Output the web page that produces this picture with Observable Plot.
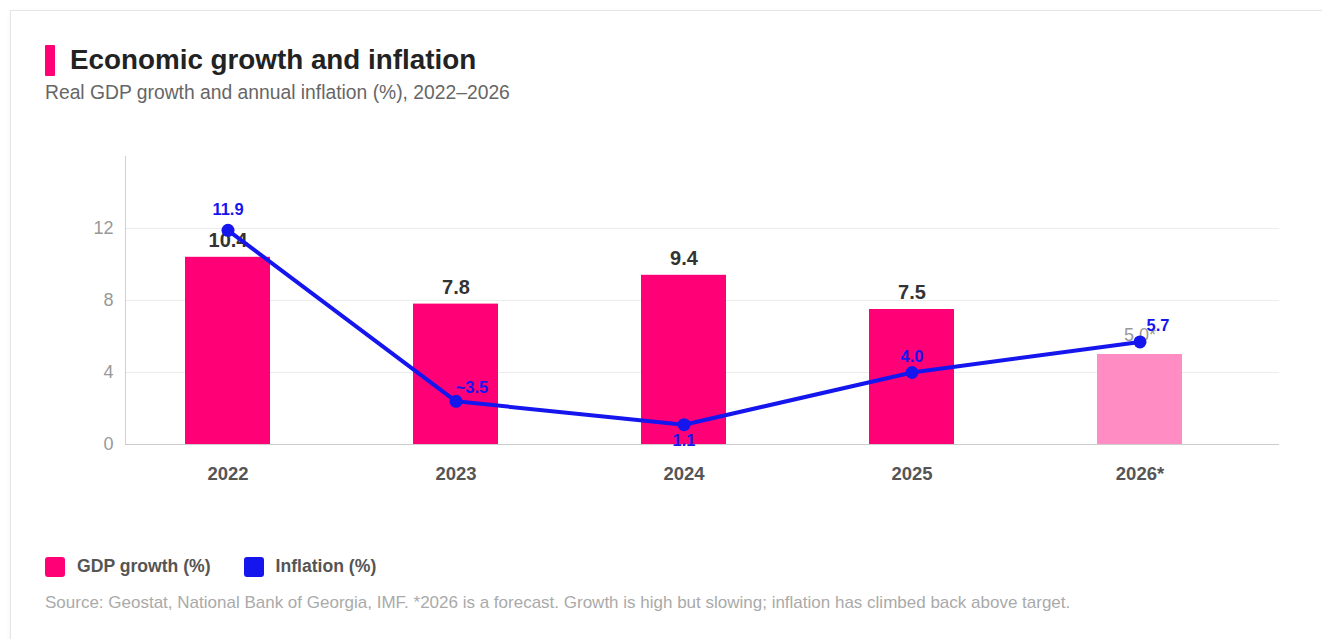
<!DOCTYPE html>
<html>
<head>
<meta charset="utf-8">
<script src="https://cdn.jsdelivr.net/npm/d3@7"></script>
<script src="https://cdn.jsdelivr.net/npm/@observablehq/plot@0.6"></script>
<style>
  html, body { margin: 0; padding: 0; background: #fff; width: 1322px; height: 639px; overflow: hidden; font-family: "Liberation Sans", Arial, sans-serif; }
  .card { position: absolute; left: 10px; top: 10px; width: 1400px; height: 700px; border: 1px solid #e4e4e4; box-shadow: 0 2px 6px rgba(0,0,0,0.04); background: #fff; }
  .mark { position: absolute; left: 45px; top: 45px; width: 10px; height: 31px; background: #ff0077; border-radius: 1px; }
  .title { position: absolute; left: 70px; top: 43px; font-size: 27.8px; font-weight: bold; color: #222; line-height: 34px; white-space: nowrap; }
  .subtitle { position: absolute; left: 45px; top: 82px; font-size: 19.3px; color: #666; line-height: 22px; white-space: nowrap; }
  #chart { position: absolute; left: 0; top: 140px; }
  .legend { position: absolute; left: 45px; top: 556px; display: flex; align-items: center; font-size: 17.6px; color: #555; font-weight: bold; white-space: nowrap; }
  .legend .sw { width: 20px; height: 20px; border-radius: 3px; margin-right: 12px; }
  .legend .item { display: flex; align-items: center; margin-right: 33px; }
  .caption { position: absolute; left: 45px; top: 592px; font-size: 17px; color: #aaa; white-space: nowrap; line-height: 22px; }
</style>
</head>
<body>
<div class="card"></div>
<div class="mark"></div>
<div class="title">Economic growth and inflation</div>
<div class="subtitle">Real GDP growth and annual inflation (%), 2022–2026</div>
<div id="chart"></div>
<div class="legend">
  <div class="item"><div class="sw" style="background:#ff0077"></div>GDP growth (%)</div>
  <div class="item"><div class="sw" style="background:#1515ee"></div>Inflation (%)</div>
</div>
<div class="caption">Source: Geostat, National Bank of Georgia, IMF. *2026 is a forecast. Growth is high but slowing; inflation has climbed back above target.</div>
<script>
const years = ["2022", "2023", "2024", "2025", "2026*"];
const gdpGrowth = [10.4, 7.8, 9.4, 7.5, 5.0];
const gdpLabels = ["10.4", "7.8", "9.4", "7.5", "5.0*"];
const inflation = [11.9, 2.4, 1.1, 4.0, 5.7];
const inflationLabels = ["11.9", "~3.5", "1.1", "4.0", "5.7"];
const isForecast = [false, false, false, false, true];
const yTicks = [0, 4, 8, 12];

const rows = years.map((y, i) => ({
  year: y, gdp: gdpGrowth[i], gdpLabel: gdpLabels[i],
  inf: inflation[i], infLabel: inflationLabels[i], forecast: isForecast[i], i
}));

// label placement for inflation annotations (rendering only)
const infOffset = [[0, -21], [16, -14], [0, 16], [0, -16], [18, -16]];

const PINK = "#ff0077", PINK_LIGHT = "#ff8cc2", BLUE = "#1515ee";

const chart = Plot.plot({
  width: 1322,
  height: 354,
  marginLeft: 125,
  marginRight: 43,
  marginTop: 16,
  marginBottom: 50,
  style: { fontFamily: '"Liberation Sans", Arial, sans-serif', background: "transparent", overflow: "visible" },
  x: { domain: years, range: [114, 1254], paddingInner: 0.627, paddingOuter: 0.3135, label: null },
  y: { domain: [0, 16], label: null },
  marks: [
    Plot.ruleY(yTicks.filter(d => d > 0), { stroke: "#ececec", strokeWidth: 1 }),
    Plot.frame({ anchor: "left", stroke: "#d0d0d0" }),
    Plot.barY(rows, { x: "year", y: "gdp", fill: d => d.forecast ? PINK_LIGHT : PINK }),
    Plot.ruleY([0], { stroke: "#cccccc", strokeWidth: 1.2 }),
    Plot.axisY({ ticks: yTicks, tickSize: 0, tickPadding: 12, fontSize: 18, fill: "#999", label: null }),
    Plot.axisX({ tickSize: 0, tickPadding: 22, fontSize: 18.5, fontWeight: "bold", fill: "#555", label: null }),
    Plot.text(rows.filter(d => !d.forecast), { x: "year", y: "gdp", text: "gdpLabel", dy: -17, fontSize: 20,
      fontWeight: "bold", fill: "#333" }),
    Plot.text(rows.filter(d => d.forecast), { x: "year", y: "gdp", text: "gdpLabel", dy: -19, fontSize: 18,
      fill: "#999" }),
    Plot.line(rows, { x: "year", y: "inf", stroke: BLUE, strokeWidth: 4 }),
    Plot.dot(rows, { x: "year", y: "inf", r: 6.5, fill: BLUE }),
    ...rows.map((d, k) => Plot.text([d], { x: "year", y: "inf", text: "infLabel",
      dx: infOffset[k][0], dy: infOffset[k][1], fontSize: 16.5, fontWeight: "bold", fill: BLUE }))
  ]
});
document.getElementById("chart").appendChild(chart);
</script>
</body>
</html>
